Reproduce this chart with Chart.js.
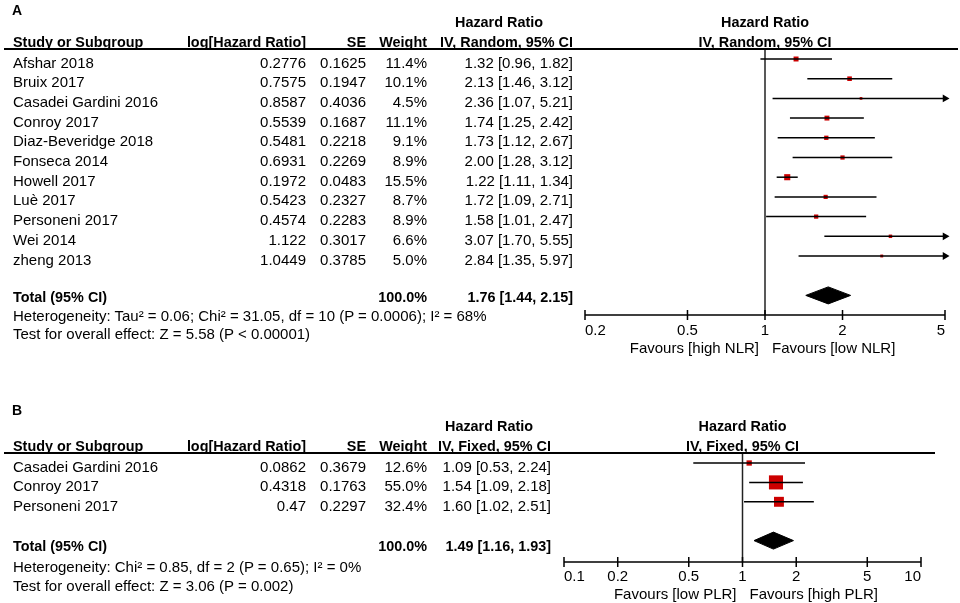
<!DOCTYPE html>
<html lang="en">
<head>
  <meta charset="UTF-8">
  <title>Forest plots - NLR and PLR</title>
  <script src="https://cdn.jsdelivr.net/npm/chart.js"></script>
  <style>
    body {
      margin: 0;
      background: #FFFFFF;
      font-family: "Liberation Sans", Arial, sans-serif;
    }
    #page {
      position: relative;
      width: 960px;
      height: 603px;
      overflow: hidden;
    }
    canvas.plot {
      position: absolute;
      left: 0;
      top: 0;
    }
    .t {
      position: absolute;
      font-size: 15px;
      line-height: 20px;
      white-space: nowrap;
      color: #000;
    }
    .b { font-weight: bold; font-size: 14.4px; }
    .panel { font-weight: bold; font-size: 14px; }
    .rule {
      position: absolute;
      height: 1.5px;
      background: #000;
    }
  </style>
</head>
<body>
<div id="page">
  <canvas class="plot" id="plotA" width="960" height="603"></canvas>
  <canvas class="plot" id="plotB" width="960" height="603"></canvas>
</div>

<script>
  // ---- Panel A : NLR, random effects ----
  const studiesA = ["Afshar 2018", "Bruix 2017", "Casadei Gardini 2016", "Conroy 2017",
    "Diaz-Beveridge 2018", "Fonseca 2014", "Howell 2017", "Luè 2017", "Personeni 2017",
    "Wei 2014", "zheng 2013"];
  const logHrA = [0.2776, 0.7575, 0.8587, 0.5539, 0.5481, 0.6931, 0.1972, 0.5423, 0.4574, 1.122, 1.0449];
  const seA = [0.1625, 0.1947, 0.4036, 0.1687, 0.2218, 0.2269, 0.0483, 0.2327, 0.2283, 0.3017, 0.3785];
  const weightA = [11.4, 10.1, 4.5, 11.1, 9.1, 8.9, 15.5, 8.7, 8.9, 6.6, 5.0];
  const hrA = [1.32, 2.13, 2.36, 1.74, 1.73, 2.00, 1.22, 1.72, 1.58, 3.07, 2.84];
  const loA = [0.96, 1.46, 1.07, 1.25, 1.12, 1.28, 1.11, 1.09, 1.01, 1.70, 1.35];
  const hiA = [1.82, 3.12, 5.21, 2.42, 2.67, 3.12, 1.34, 2.71, 2.47, 5.55, 5.97];
  const totalA = [1.76, 1.44, 2.15];   // estimate, lower, upper
  const ticksA = [0.2, 0.5, 1, 2, 5];

  // ---- Panel B : PLR, fixed effect ----
  const studiesB = ["Casadei Gardini 2016", "Conroy 2017", "Personeni 2017"];
  const logHrB = [0.0862, 0.4318, 0.47];
  const seB = [0.3679, 0.1763, 0.2297];
  const weightB = [12.6, 55.0, 32.4];
  const hrB = [1.09, 1.54, 1.60];
  const loB = [0.53, 1.09, 1.02];
  const hiB = [2.24, 2.18, 2.51];
  const totalB = [1.49, 1.16, 1.93];
  const ticksB = [0.1, 0.2, 0.5, 1, 2, 5, 10];

  const page = document.getElementById("page");
  const RED = "#cc0000";

  function addText(str, x, top, align, cls) {
    const d = document.createElement("div");
    d.className = "t" + (cls ? " " + cls : "");
    d.textContent = str;
    d.style.top = top + "px";
    if (align === "r") {
      d.style.right = (960 - x) + "px";
    } else if (align === "c") {
      d.style.left = x + "px";
      d.style.transform = "translateX(-50%)";
    } else {
      d.style.left = x + "px";
    }
    page.appendChild(d);
  }

  function addRule(x1, x2, y) {
    const d = document.createElement("div");
    d.className = "rule";
    d.style.left = x1 + "px";
    d.style.width = (x2 - x1) + "px";
    d.style.top = (y - 0.75) + "px";
    page.appendChild(d);
  }

  // axis, null line and tick labels drawn from the chart's x scale
  const forestFrame = {
    id: "forestFrame",
    beforeDatasetsDraw(chart, args, opts) {
      const { ctx, chartArea, scales: { x } } = chart;
      const x1 = x.getPixelForValue(1);
      const yb = chartArea.bottom;
      ctx.save();
      ctx.strokeStyle = "#222";
      ctx.lineWidth = 1.5;
      ctx.beginPath();
      ctx.moveTo(x1, chartArea.top);
      ctx.lineTo(x1, yb);
      ctx.stroke();

      ctx.strokeStyle = "#000";
      ctx.beginPath();
      ctx.moveTo(x.getPixelForValue(x.min), yb);
      ctx.lineTo(x.getPixelForValue(x.max), yb);
      opts.ticks.forEach(t => {
        const px = x.getPixelForValue(t);
        ctx.moveTo(px, yb - 5);
        ctx.lineTo(px, yb + 5);
      });
      ctx.stroke();

      ctx.fillStyle = "#000";
      ctx.font = '15px "Liberation Sans", Arial, sans-serif';
      ctx.textBaseline = "alphabetic";
      opts.ticks.forEach((t, k) => {
        ctx.textAlign = k === 0 ? "left" : (k === opts.ticks.length - 1 ? "right" : "center");
        ctx.fillText(String(t), x.getPixelForValue(t), yb + opts.labelGap);
      });
      ctx.restore();
    }
  };

  function makeForest(id, d, lay) {
    const step = lay.rowStep;
    const yMin = -(lay.firstRow - lay.top) / step;
    const yMax = (lay.bottom - lay.firstRow) / step;
    const xMax = d.ticks[d.ticks.length - 1];
    const totalRow = d.hr.length + 1;
    const half = 8.5 / step;   // diamond half height

    const datasets = [];
    // confidence intervals
    d.hr.forEach((v, i) => {
      datasets.push({
        type: "line",
        data: [{ x: d.lo[i], y: i }, { x: d.hi[i], y: i }],
        borderColor: "#000",
        borderWidth: 1.5,
        pointRadius: 0,
        showLine: true,
        fill: false
      });
    });
    // arrows for intervals running past the axis
    const arrows = [];
    d.hi.forEach((v, i) => { if (v > xMax) arrows.push({ x: xMax, y: i }); });
    datasets.push({
      type: "scatter",
      data: arrows,
      pointStyle: "triangle",
      rotation: 90,
      pointRadius: 4.5,
      backgroundColor: "#000",
      borderWidth: 0,
      clip: false
    });
    // study estimates, box size from weight
    datasets.push({
      type: "scatter",
      data: d.hr.map((v, i) => ({ x: v, y: i })),
      pointStyle: "rect",
      pointRadius: d.weight.map(w => Math.pow(w, 0.66) / Math.SQRT2),
      backgroundColor: RED,
      borderWidth: 0
    });
    // pooled diamond
    const [est, lo, hi] = d.total;
    datasets.push({
      type: "line",
      data: [
        { x: lo, y: totalRow }, { x: est, y: totalRow - half },
        { x: hi, y: totalRow }, { x: est, y: totalRow + half },
        { x: lo, y: totalRow }
      ],
      borderColor: "#000",
      backgroundColor: "#000",
      borderWidth: 1,
      pointRadius: 0,
      showLine: true,
      fill: "shape"
    });

    return new Chart(document.getElementById(id), {
      type: "scatter",
      data: { datasets: datasets },
      options: {
        responsive: false,
        animation: false,
        events: [],
        layout: {
          padding: { left: lay.left, right: 960 - lay.right, top: lay.top, bottom: 603 - lay.bottom }
        },
        scales: {
          x: { type: "logarithmic", min: d.ticks[0], max: xMax, display: false },
          y: { type: "linear", min: yMin, max: yMax, reverse: true, display: false }
        },
        plugins: {
          legend: { display: false },
          tooltip: { enabled: false },
          forestFrame: { ticks: d.ticks, labelGap: lay.labelGap }
        }
      },
      plugins: [forestFrame]
    });
  }

  function writeTable(d, t, chart) {
    const x1 = chart.scales.x.getPixelForValue(1);
    addText(t.panel, 12, t.panelTop, "l", "panel");
    addText("Hazard Ratio", t.ciHead, t.head1, "c", "b");
    addText("Study or Subgroup", 13, t.head2, "l", "b");
    addText("log[Hazard Ratio]", 306, t.head2, "r", "b");
    addText("SE", 366, t.head2, "r", "b");
    addText("Weight", 427, t.head2, "r", "b");
    addText(t.method, t.ciR, t.head2, "r", "b");
    addText("Hazard Ratio", x1, t.head1, "c", "b");
    addText(t.method, x1, t.head2, "c", "b");
    addRule(4, t.ruleEnd, t.ruleY);

    d.studies.forEach((s, i) => {
      const top = t.row0 + i * t.rowStep;
      addText(s, 13, top, "l");
      addText(String(d.logHr[i]), 306, top, "r");
      addText(String(d.se[i]), 366, top, "r");
      addText(d.weight[i].toFixed(1) + "%", 427, top, "r");
      addText(d.hr[i].toFixed(2) + " [" + d.lo[i].toFixed(2) + ", " + d.hi[i].toFixed(2) + "]", t.ciR, top, "r");
    });
    const [est, lo, hi] = d.total;
    addText("Total (95% CI)", 13, t.totalTop, "l", "b");
    addText("100.0%", 427, t.totalTop, "r", "b");
    addText(est.toFixed(2) + " [" + lo.toFixed(2) + ", " + hi.toFixed(2) + "]", t.ciR, t.totalTop, "r", "b");
    addText(t.het, 13, t.hetTop, "l");
    addText(t.test, 13, t.testTop, "l");
    addText(t.favLeft, x1 - 6, t.favTop, "r");
    addText(t.favRight, x1 + 7, t.favTop, "l");
  }

  const dataA = { studies: studiesA, logHr: logHrA, se: seA, weight: weightA,
    hr: hrA, lo: loA, hi: hiA, total: totalA, ticks: ticksA };
  const dataB = { studies: studiesB, logHr: logHrB, se: seB, weight: weightB,
    hr: hrB, lo: loB, hi: hiB, total: totalB, ticks: ticksB };

  const chartA = makeForest("plotA", dataA,
    { top: 49, bottom: 315, left: 585, right: 945, firstRow: 59, rowStep: 19.7, labelGap: 20 });
  const chartB = makeForest("plotB", dataB,
    { top: 453, bottom: 562, left: 564, right: 921, firstRow: 463, rowStep: 19.4, labelGap: 19 });

  writeTable(dataA, {
    panel: "A", panelTop: -0.5, head1: 12, head2: 32, ruleY: 49, ruleEnd: 958,
    method: "IV, Random, 95% CI", ciR: 573, ciHead: 499,
    row0: 52.5, rowStep: 19.7, totalTop: 287, hetTop: 306, testTop: 324, favTop: 338,
    het: "Heterogeneity: Tau² = 0.06; Chi² = 31.05, df = 10 (P = 0.0006); I² = 68%",
    test: "Test for overall effect: Z = 5.58 (P < 0.00001)",
    favLeft: "Favours [high NLR]", favRight: "Favours [low NLR]"
  }, chartA);

  writeTable(dataB, {
    panel: "B", panelTop: 400, head1: 415.5, head2: 435.5, ruleY: 453, ruleEnd: 935,
    method: "IV, Fixed, 95% CI", ciR: 551, ciHead: 489,
    row0: 457, rowStep: 19.4, totalTop: 535.5, hetTop: 557, testTop: 575.5, favTop: 583.5,
    het: "Heterogeneity: Chi² = 0.85, df = 2 (P = 0.65); I² = 0%",
    test: "Test for overall effect: Z = 3.06 (P = 0.002)",
    favLeft: "Favours [low PLR]", favRight: "Favours [high PLR]"
  }, chartB);
</script>
</body>
</html>
